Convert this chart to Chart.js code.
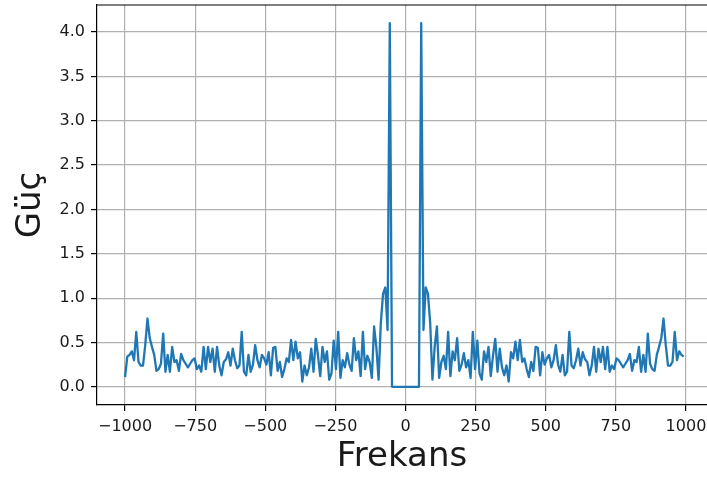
<!DOCTYPE html>
<html><head><meta charset="utf-8">
<script src="https://cdn.jsdelivr.net/npm/chart.js@4"></script>
<style>html,body{margin:0;padding:0;background:#fff;}canvas{display:block;}</style>
</head><body>
<canvas id="c" width="707" height="477"></canvas>
<script>
const freqs = [
-1000,-992,-984,-976,-968,-960,-952,-944,-936,-928,
-920,-912,-904,-896,-888,-880,-872,-864,-856,-848,
-840,-832,-824,-816,-808,-800,-792,-784,-776,-768,
-760,-752,-744,-736,-728,-720,-712,-704,-696,-688,
-680,-672,-664,-656,-648,-640,-632,-624,-616,-608,
-600,-592,-584,-576,-568,-560,-552,-544,-536,-528,
-520,-512,-504,-496,-488,-480,-472,-464,-456,-448,
-440,-432,-424,-416,-408,-400,-392,-384,-376,-368,
-360,-352,-344,-336,-328,-320,-312,-304,-296,-288,
-280,-272,-264,-256,-248,-240,-232,-224,-216,-208,
-200,-192,-184,-176,-168,-160,-152,-144,-136,-128,
-120,-112,-104,-96,-88,-80,-72,-64,-56,-48,
-40,-32,-24,-16,-8,0,8,16,24,32,
40,48,56,64,72,80,88,96,104,112,
120,128,136,144,152,160,168,176,184,192,
200,208,216,224,232,240,248,256,264,272,
280,288,296,304,312,320,328,336,344,352,
360,368,376,384,392,400,408,416,424,432,
440,448,456,464,472,480,488,496,504,512,
520,528,536,544,552,560,568,576,584,592,
600,608,616,624,632,640,648,656,664,672,
680,688,696,704,712,720,728,736,744,752,
760,768,776,784,792,800,808,816,824,832,
840,848,856,864,872,880,888,896,904,912,
920,928,936,944,952,960,968,976,984,992
];
const power = [
0.11,
0.34,0.36,0.40,0.30,0.62,
0.28,0.24,0.24,0.47,0.77,0.55,0.45,0.36,
0.18,0.20,0.26,0.60,0.17,0.36,0.17,0.45,
0.28,0.30,0.18,0.37,0.30,0.26,0.22,0.26,
0.30,0.32,0.20,0.24,0.17,0.45,0.20,0.45,
0.28,0.43,0.17,0.45,0.24,0.13,0.28,0.31,
0.39,0.24,0.43,0.30,0.21,0.24,0.62,0.17,
0.13,0.36,0.17,0.25,0.47,0.30,0.22,0.36,
0.32,0.25,0.39,0.13,0.44,0.45,0.18,0.28,
0.11,0.20,0.32,0.28,0.53,0.30,0.51,0.32,
0.39,0.06,0.24,0.13,0.22,0.43,0.17,0.54,
0.35,0.12,0.45,0.28,0.40,0.08,0.15,0.52,
0.20,0.62,0.10,0.30,0.22,0.38,0.25,0.18,
0.55,0.30,0.40,0.12,0.62,0.20,0.35,0.28,
0.10,0.68,0.45,0.08,0.72,1.05,1.12,0.64,
4.10,
0,0,0,0,0,0,
0,
0,0,0,0,0,0,
4.10,
0.64,1.12,1.05,0.72,0.08,0.45,0.68,0.10,
0.28,0.35,0.20,0.62,0.12,0.40,0.30,0.55,
0.18,0.25,0.38,0.22,0.30,0.10,0.62,0.20,
0.52,0.15,0.08,0.40,0.28,0.45,0.12,0.35,
0.54,0.17,0.43,0.22,0.13,0.24,0.06,0.39,
0.32,0.51,0.30,0.53,0.28,0.32,0.20,0.11,
0.28,0.18,0.45,0.44,0.13,0.39,0.25,0.32,
0.36,0.22,0.30,0.47,0.25,0.17,0.36,0.13,
0.17,0.62,0.24,0.21,0.30,0.43,0.24,0.39,
0.31,0.28,0.13,0.24,0.45,0.17,0.43,0.28,
0.45,0.20,0.45,0.17,0.24,0.20,0.32,0.30,
0.26,0.22,0.26,0.30,0.37,0.18,0.30,0.28,
0.45,0.17,0.36,0.17,0.60,0.26,0.20,0.18,
0.36,0.45,0.55,0.77,0.47,0.24,0.24,0.28,
0.62,0.30,0.40,0.36,0.34
];
const xTicks = [-1000,-750,-500,-250,0,250,500,750,1000];
const yTicks = [0,0.5,1,1.5,2,2.5,3,3.5,4];
const xLabel = 'Frekans';
const yLabel = 'Güç';

const FAM = '"DejaVu Sans", sans-serif';
const TXT = '#1a1a1a';
const fmtNum = (v, d) => { const s = Math.abs(v).toFixed(d); return v < 0 ? '\u2212' + s : s; };

const topSpine = {
  id: 'topSpine',
  afterDatasetsDraw(chart) {
    const {ctx, chartArea: a} = chart;
    ctx.save();
    ctx.strokeStyle = '#000';
    ctx.lineWidth = 1.2;
    ctx.beginPath();
    ctx.moveTo(a.left, a.top);
    ctx.lineTo(a.right + 2, a.top);
    ctx.stroke();
    ctx.restore();
  }
};

new Chart(document.getElementById('c'), {
  type: 'line',
  data: {
    datasets: [{
      data: freqs.map((f, i) => ({x: f, y: power[i]})),
      borderColor: '#1f77b4',
      borderWidth: 2.3,
      borderJoinStyle: 'round',
      pointRadius: 0,
      tension: 0,
      fill: false
    }]
  },
  options: {
    responsive: false,
    animation: false,
    devicePixelRatio: 1,
    layout: {padding: {top: 5, right: 0, bottom: 0, left: 0}},
    plugins: {legend: {display: false}, tooltip: {enabled: false}},
    scales: {
      x: {
        type: 'linear',
        min: -1100,
        max: 1075,
        afterBuildTicks: s => { s.ticks = xTicks.map(v => ({value: v})); },
        afterFit: s => { s.height = 72; s.paddingLeft = 0; s.paddingRight = 0; },
        ticks: {font: {size: 16, family: FAM}, color: TXT, padding: 6, maxRotation: 0, autoSkip: false,
                callback: v => fmtNum(v, 0)},
        grid: {color: '#b0b0b0', lineWidth: 1.2, tickLength: 6, tickColor: '#000', tickWidth: 1.2, drawTicks: true},
        border: {color: '#000', width: 1.2},
        title: {display: true, text: xLabel, font: {size: 34, family: FAM}, color: TXT, padding: {top: 0, bottom: -1}}
      },
      y: {
        type: 'linear',
        min: -0.205,
        max: 4.305,
        afterBuildTicks: s => { s.ticks = yTicks.map(v => ({value: v})); },
        afterFit: s => { s.width = 97; s.paddingTop = 0; s.paddingBottom = 0; },
        ticks: {font: {size: 16, family: FAM}, color: TXT, padding: 6,
                callback: v => fmtNum(v, 1)},
        grid: {color: '#b0b0b0', lineWidth: 1.2, tickLength: 6, tickColor: '#000', tickWidth: 1.2, drawTicks: true},
        border: {color: '#000', width: 1.2},
        title: {display: true, text: yLabel, font: {size: 34, family: FAM}, color: TXT, padding: {top: 11, bottom: 0}}
      }
    }
  },
  plugins: [topSpine]
});
</script>
</body></html>
